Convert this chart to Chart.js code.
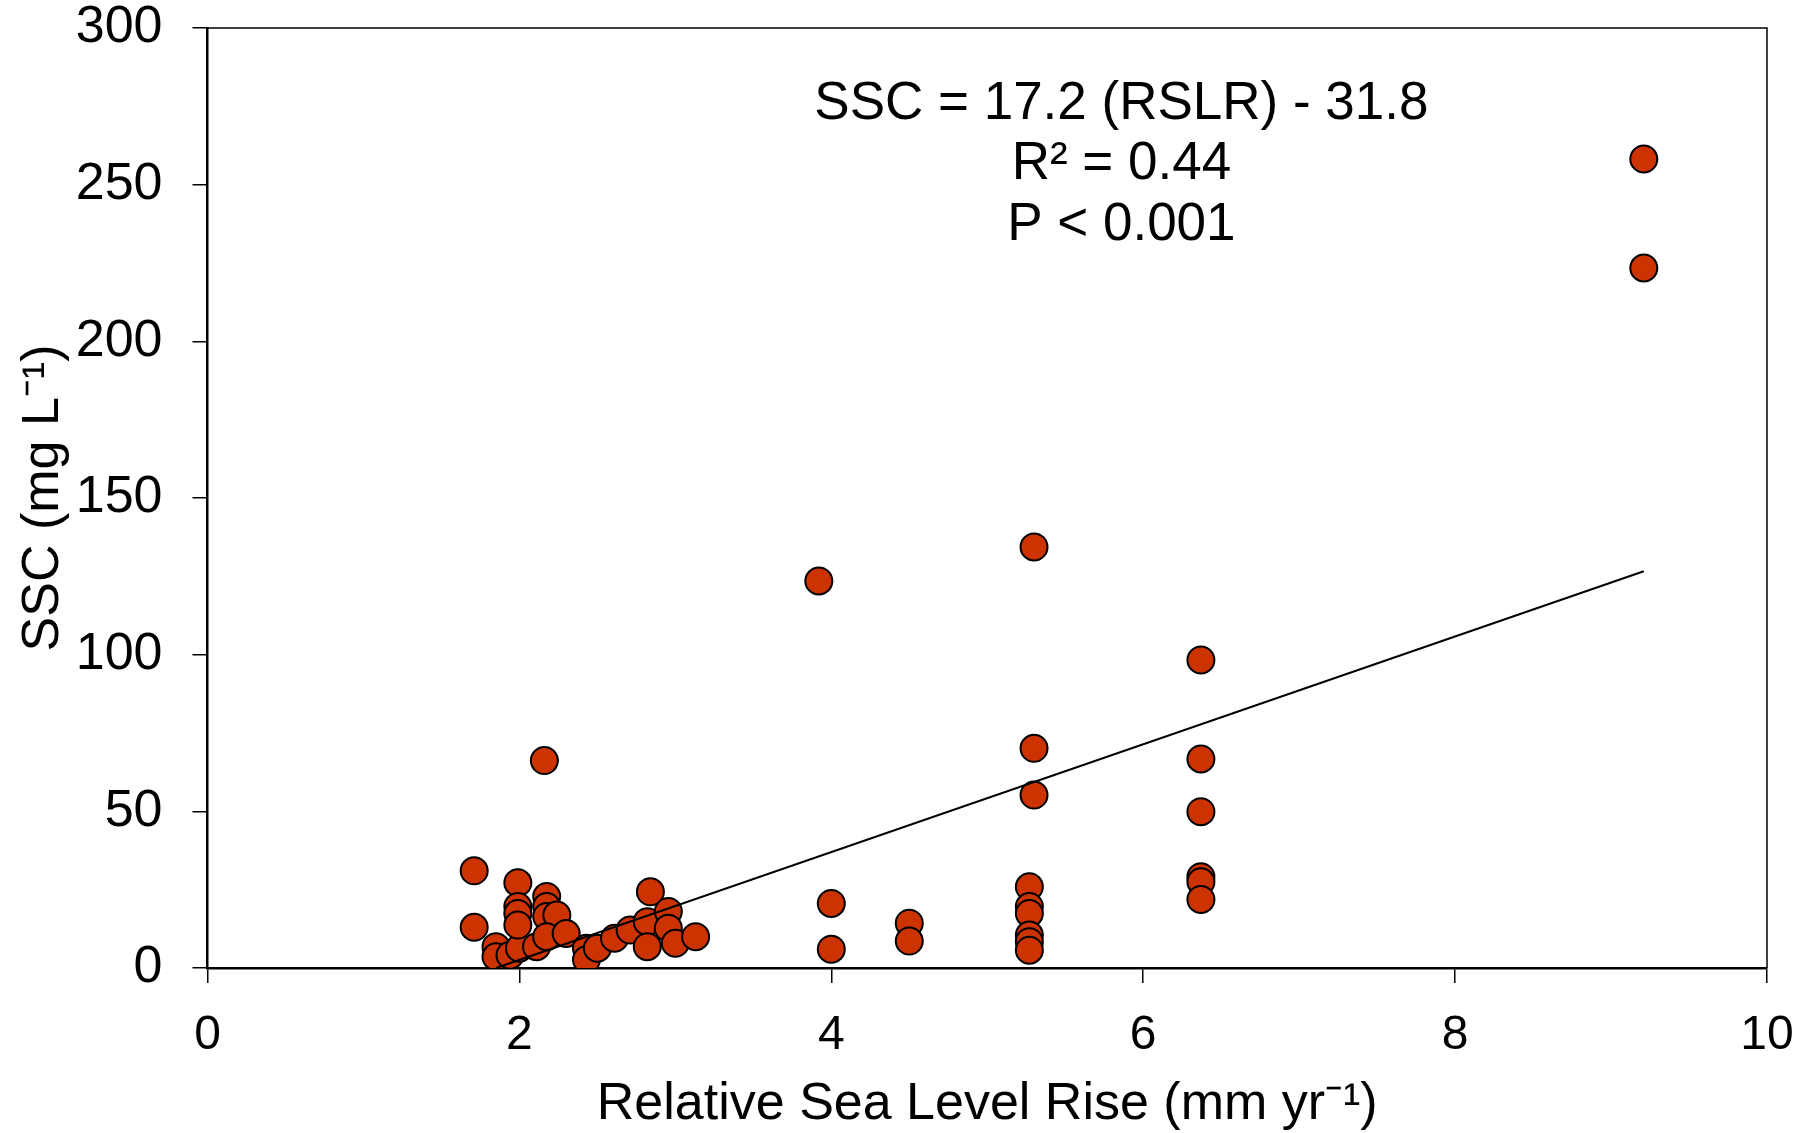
<!DOCTYPE html>
<html>
<head>
  <title>SSC vs Relative Sea Level Rise</title>
  <script src="https://cdn.jsdelivr.net/npm/chart.js"></script>
  <style>
    body { margin: 0; background: #fff; }
  </style>
</head>
<body>
  <canvas id="sscChart" width="1818" height="1133"></canvas>

  <script>
    const rslr = [1.71, 1.71, 1.85, 1.85, 1.94, 2.00, 1.99, 1.99, 1.99, 1.99,
                  2.11, 2.16, 2.175, 2.175, 2.175, 2.24, 2.175, 2.30, 2.43, 2.43,
                  2.50, 2.61, 2.71, 2.84, 2.82, 2.82, 2.955, 2.955, 3.00, 3.13,
                  3.92, 4.00, 4.00, 4.50, 4.50, 5.30, 5.30, 5.30, 5.27, 5.27,
                  5.27, 5.27, 5.27, 5.27, 6.37, 6.37, 6.37, 6.37, 6.37, 6.37,
                  9.21, 9.21];
    const ssc = [31.0, 13.0, 6.8, 3.6, 4.1, 6.3, 27.2, 19.6, 17.4, 13.7,
                 6.8, 66.2, 22.8, 19.6, 16.4, 16.9, 10.0, 11.0, 6.3, 2.6,
                 6.3, 9.5, 12.1, 24.3, 14.8, 6.8, 18.0, 12.7, 7.9, 10.0,
                 123.5, 20.6, 6.0, 14.3, 8.6, 134.4, 70.1, 55.2, 25.9, 19.6,
                 17.4, 10.5, 8.4, 5.7, 98.3, 66.7, 49.9, 29.1, 27.5, 21.9,
                 258.2, 223.4];

    // fitted line end points
    const fitX = [1.85, 9.21];
    const fitY = [0.0, 126.6];

    const xTicks = [0, 2, 4, 6, 8, 10];
    const yTicks = [0, 50, 100, 150, 200, 250, 300];

    const statLines = ['SSC = 17.2 (RSLR) - 31.8', 'R\u00B2 = 0.44', 'P < 0.001'];

    const FONT = '"Liberation Sans", Arial, sans-serif';

    const frame = {
      id: 'frame',
      afterDraw(chart) {
        const { ctx, chartArea: a } = chart;
        ctx.save();
        ctx.strokeStyle = '#000';
        ctx.lineWidth = 1.5;
        ctx.beginPath();
        ctx.moveTo(a.left, a.top);
        ctx.lineTo(a.right, a.top);
        ctx.lineTo(a.right, a.bottom);
        ctx.stroke();

        // regression statistics
        const xs = chart.scales.x;
        const cx = xs.getPixelForValue(5.86);
        ctx.fillStyle = '#000';
        ctx.font = '53px ' + FONT;
        ctx.textAlign = 'center';
        ctx.textBaseline = 'middle';
        statLines.forEach((t, i) => ctx.fillText(t, cx, 104 + i * 60.5));
        ctx.restore();
      }
    };

    const points = rslr.map((x, i) => ({ x: x, y: ssc[i] }));
    const fit = fitX.map((x, i) => ({ x: x, y: fitY[i] }));

    new Chart(document.getElementById('sscChart'), {
      type: 'scatter',
      data: {
        datasets: [{
          type: 'line',
          data: fit,
          borderColor: '#000',
          borderWidth: 2,
          pointRadius: 0,
          fill: false
        }, {
          data: points,
          backgroundColor: '#cc3300',
          borderColor: '#000',
          borderWidth: 2,
          pointRadius: 13.5,
          pointHoverRadius: 13.5
        }]
      },
      options: {
        responsive: false,
        animation: false,
        layout: { padding: { left: 0, top: 28, right: 51, bottom: 0 } },
        plugins: {
          legend: { display: false },
          tooltip: { enabled: false }
        },
        scales: {
          x: {
            type: 'linear',
            min: 0,
            max: 10,
            afterBuildTicks: s => { s.ticks = xTicks.map(v => ({ value: v })); },
            afterFit: s => { s.height = 165; s.paddingLeft = 0; s.paddingRight = 0; },
            border: { color: '#000', width: 2.5 },
            grid: { drawOnChartArea: false, color: '#000', lineWidth: 1.5, tickLength: 15 },
            ticks: { color: '#000', font: { family: FONT, size: 48 }, padding: 24, maxRotation: 0 },
            title: {
              display: true,
              text: 'Relative Sea Level Rise (mm yr\u207B\u00B9)',
              color: '#000',
              font: { family: FONT, size: 52 },
              padding: { top: 0, bottom: -3 }
            }
          },
          y: {
            type: 'linear',
            min: 0,
            max: 300,
            afterBuildTicks: s => { s.ticks = yTicks.map(v => ({ value: v })); },
            afterFit: s => { s.width = 207.5; s.paddingTop = 0; s.paddingBottom = 0; },
            border: { color: '#000', width: 2.5 },
            grid: { drawOnChartArea: false, color: '#000', lineWidth: 1.5, tickLength: 15 },
            ticks: { color: '#000', font: { family: FONT, size: 52 }, padding: 30 },
            title: {
              display: true,
              text: 'SSC (mg L\u207B\u00B9)',
              color: '#000',
              font: { family: FONT, size: 52 },
              padding: { top: 12, bottom: 0 }
            }
          }
        }
      },
      plugins: [frame]
    });
  </script>
</body>
</html>
